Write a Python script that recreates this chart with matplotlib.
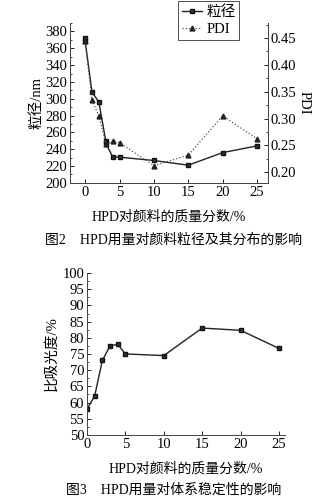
import numpy as np
import matplotlib.pyplot as plt
from matplotlib.ticker import MultipleLocator

plt.rcParams['font.family'] = ['Liberation Serif', 'Noto Sans CJK SC']
plt.rcParams['axes.unicode_minus'] = False

# HPD dosage vs. particle size / PDI
hpd_size = [0, 0, 1, 2, 3, 3, 4, 5, 10, 15, 20, 25]
size_nm = [372, 369, 308, 296, 250, 247, 231, 230.5, 226.6, 221, 236, 244]

hpd_pdi = [0, 1, 2, 3, 4, 5, 10, 15, 20, 25]
pdi = [0.445, 0.334, 0.305, 0.252, 0.258, 0.255, 0.212, 0.232, 0.305, 0.262]

# HPD dosage vs. specific absorbance
hpd_abs = [0, 1, 2, 3, 4, 5, 10, 15, 20, 25]
absorb = [58, 62, 73, 77.5, 78, 75, 74.5, 83, 82.3, 76.7]

fig = plt.figure(figsize=(3.27, 5.01), dpi=100)

ax1 = fig.add_axes([0.214, 0.635, 0.606, 0.319])
ax2 = ax1.twinx()
l1, = ax1.plot(hpd_size, size_nm, '-', color='#222222', lw=1.0,
               marker='s', ms=3.5, mfc='#333333', mec='#111111', label='粒径')
l2, = ax2.plot(hpd_pdi, pdi, ':', color='#555555', lw=0.9,
               marker='^', ms=3.5, mfc='#222222', mec='#222222', label='PDI')

ax1.set_xlim(-2.2, 26.6)
ax1.set_ylim(200, 390)
ax2.set_ylim(0.18, 0.478)
ax1.set_xticks([0, 5, 10, 15, 20, 25])
ax1.set_yticks(np.arange(200, 381, 20))
ax1.yaxis.set_minor_locator(MultipleLocator(10))
ax2.set_yticks([0.20, 0.25, 0.30, 0.35, 0.40, 0.45])
ax2.set_yticklabels(['0.20', '0.25', '0.30', '0.35', '0.40', '0.45'])
ax2.yaxis.set_minor_locator(MultipleLocator(0.025))
for ax in (ax1, ax2):
    ax.spines['top'].set_visible(False)
    ax.tick_params(direction='in', labelsize=10.5, length=3, width=0.6, pad=2)
    ax.tick_params(which='minor', direction='in', length=1.5, width=0.5)
    for s in ax.spines.values():
        s.set_linewidth(0.7)
        s.set_color('#444444')
ax1.set_ylabel('粒径/nm', fontsize=10.5, labelpad=1)
ax2.set_ylabel('PDI', fontsize=10.5, rotation=-90, labelpad=10)
ax1.set_xlabel('HPD对颜料的质量分数/%', fontsize=10, labelpad=8)
leg = ax1.legend(handles=[l1, l2], loc='upper left', bbox_to_anchor=(0.545, 1.135),
                 fontsize=10.5, frameon=True, fancybox=False, edgecolor='#222222',
                 handlelength=1.4, handletextpad=0.3, borderpad=0.25,
                 labelspacing=0.3, borderaxespad=0)
leg.get_frame().set_linewidth(0.7)
fig.text(0.53, 0.52, '图2    HPD用量对颜料粒径及其分布的影响', ha='center',
         va='center', fontsize=10)

ax3 = fig.add_axes([0.266, 0.132, 0.606, 0.323])
ax3.plot(hpd_abs, absorb, '-', color='#222222', lw=1.0,
         marker='s', ms=3.5, mfc='#333333', mec='#111111')
ax3.set_xlim(0, 25.8)
ax3.set_ylim(50, 100)
ax3.set_xticks([0, 5, 10, 15, 20, 25])
ax3.set_yticks(np.arange(50, 101, 5))
ax3.yaxis.set_minor_locator(MultipleLocator(2.5))
ax3.spines['top'].set_visible(False)
ax3.spines['right'].set_visible(False)
for s in ax3.spines.values():
    s.set_linewidth(0.7)
    s.set_color('#444444')
ax3.tick_params(direction='in', labelsize=10.5, length=3, width=0.6, pad=2)
ax3.tick_params(which='minor', direction='in', length=1.5, width=0.5)
ax3.set_ylabel('比吸光度/%', fontsize=10.5, labelpad=3)
ax3.set_xlabel('HPD对颜料的质量分数/%', fontsize=10, labelpad=8)
fig.text(0.53, 0.022, '图3    HPD用量对体系稳定性的影响', ha='center',
         va='center', fontsize=10)

fig.savefig('out.png', dpi=100)
